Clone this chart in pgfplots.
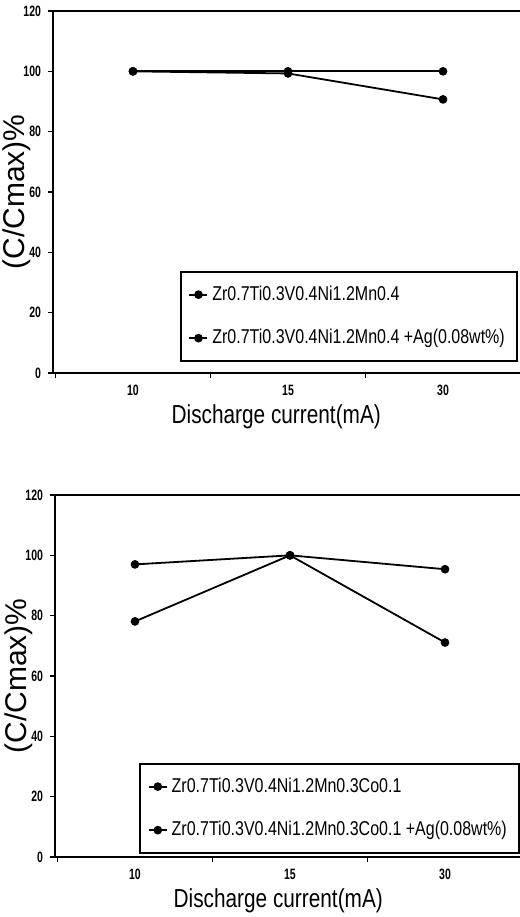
\documentclass[border=0pt]{standalone}
\usepackage{pgfplots}
\pgfplotsset{compat=1.18}
\usepackage{fontspec}
\setmainfont{Liberation Sans}
\newfontfamily\narrowfont[FakeStretch=0.8]{Liberation Sans}
\newfontfamily\tickfont[FakeStretch=0.7]{Liberation Sans}

\pgfplotsset{
  cmax/.style={
    scale only axis, width=235pt, height=181pt,
    xmin=-0.516, xmax=2.516, ymin=0, ymax=120,
    xtick={-0.5,0.5,1.5,2.5}, x tick label as interval,
    xticklabels={10,15,30},
    ytick={0,20,...,120},
    xtick pos=bottom, ytick pos=left, tick align=outside,
    major tick length=2.5pt,
    axis line style={line width=0.8pt},
    tick style={black, line width=0.6pt},
    /pgf/number format/assume math mode=true,
    ticklabel style={font=\tickfont\bfseries\fontsize{7.5}{7.5}\selectfont},
    ylabel={(C/Cmax)\%},
    ylabel style={font=\fontsize{15}{15}\selectfont,
      at={(axis description cs:-0.077,0.5)}, anchor=center},
    xlabel={Discharge current(mA)},
    xlabel style={font=\narrowfont\fontsize{13}{13}\selectfont,
      at={(axis description cs:0.475,0)}, anchor=center, yshift=-22pt},
    legend cell align=left,
    legend image code/.code={
      \draw[mark repeat=2,mark phase=2] plot coordinates {(0pt,0pt)(4.5pt,0pt)(9pt,0pt)};},
    legend style={draw=black, line width=1pt, anchor=north east,
      font=\narrowfont\fontsize{10}{10}\selectfont,
      row sep=9pt, inner ysep=5pt, inner xsep=4pt},
  },
  ser/.style={black, line width=0.9pt, mark=*, mark size=1.7pt},
}

\begin{document}
\begin{tikzpicture}
\path[use as bounding box] (0,0) rectangle (260pt,-458.5pt);

% upper panel
\begin{axis}[cmax, at={(26.5pt,-5.5pt)}, anchor=north west,
  legend style={at={(0.989,0.282)}}]
  \addplot[ser] coordinates {(0,100) (1,100) (2,100)};
  \addlegendentry{Zr0.7Ti0.3V0.4Ni1.2Mn0.4}
  \addplot[ser] coordinates {(0,100) (1,99.3) (2,90.7)};
  \addlegendentry{Zr0.7Ti0.3V0.4Ni1.2Mn0.4 +Ag(0.08wt\%)}
\end{axis}

% lower panel
\begin{axis}[cmax, at={(27.5pt,-247.5pt)}, anchor=north west,
  legend style={at={(0.989,0.26)}}]
  \addplot[ser] coordinates {(0,97) (1,100) (2,95.4)};
  \addlegendentry{Zr0.7Ti0.3V0.4Ni1.2Mn0.3Co0.1}
  \addplot[ser] coordinates {(0,78.1) (1,100) (2,71.1)};
  \addlegendentry{Zr0.7Ti0.3V0.4Ni1.2Mn0.3Co0.1 +Ag(0.08wt\%)}
\end{axis}
\end{tikzpicture}
\end{document}
